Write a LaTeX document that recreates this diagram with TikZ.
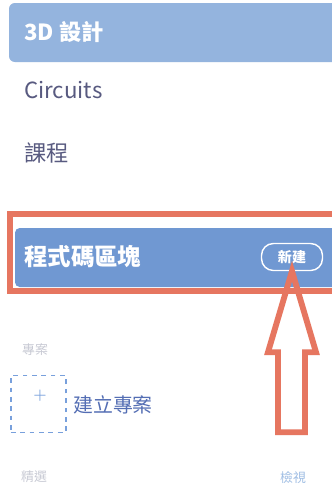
\documentclass[tikz,border=0pt]{standalone}
\usepackage{fontspec}
\newfontfamily\cjk{Noto Sans CJK TC}
\definecolor{topbar}{RGB}{148,180,222}
\definecolor{codebar}{RGB}{112,152,210}
\definecolor{menutext}{RGB}{88,90,128}
\definecolor{markred}{RGB}{230,118,96}
\definecolor{newproject}{RGB}{84,110,180}
\definecolor{dashblue}{RGB}{120,160,220}
\definecolor{faintgray}{RGB}{200,202,212}
\definecolor{faintblue}{RGB}{160,190,228}

\begin{document}
\begin{tikzpicture}[x=0.03cm, y=-0.03cm]
            \useasboundingbox[fill=white] (0, 0) rectangle (332, 492);
            \tikzstyle{every node} = [inner sep=0pt, anchor=west]
            \tikzstyle{menu} = [font=\cjk\fontsize{19pt}{19pt}\selectfont]

            % top bar
            \fill[topbar, rounded corners=5] (9, 3) rectangle (338, 62);
            \node[menu, text=white, font=\cjk\bfseries\fontsize{19pt}{19pt}\selectfont] (design) at (24, 32) {3D 設計};

            \node[menu, text=menutext] (circuits) at (24, 90) {Circuits};
            \node[menu, text=menutext] (lessons) at (24, 153) {課程};

            % marked entry
            \fill[codebar, rounded corners=4] (15, 228) rectangle (338, 287);
            \draw[markred, line width=5.5] (10, 214) rectangle (342, 291);
            \node[menu, text=white, font=\cjk\bfseries\fontsize{20pt}{20pt}\selectfont] (codeblocks) at (24, 257) {程式碼區塊};
            \node[draw=white, line width=1.2, rounded corners=10, anchor=center,
                  minimum width=52, minimum height=23, text=white,
                  font=\cjk\bfseries\fontsize{12pt}{12pt}\selectfont] (newbtn) at (292, 257) {新建};

            % hollow arrow
            \coordinate (tip) at (newbtn.south);
            \draw[markred, line width=5, line join=miter]
                (tip) -- ++(-24, 81) -- ++(10, 0) -- ++(0, 80) -- ++(27, 0)
                -- ++(0, -80) -- ++(11, 0) -- cycle;

            % projects
            \node[text=faintgray, font=\cjk\fontsize{11pt}{11pt}\selectfont] (projects) at (22, 350) {專案};
            \node[draw=dashblue, dashed, dash pattern=on 4 off 4, line width=1, anchor=center,
                  minimum width=47, minimum height=48] (newbox) at (38.5, 404) {};
            \node[text=dashblue, anchor=center, font=\bfseries\fontsize{13pt}{13pt}\selectfont] (plus) at (40, 396) {+};
            \node[text=newproject, font=\cjk\fontsize{17pt}{17pt}\selectfont] (create) at (73, 405) {建立專案};

            \node[text=faintgray, font=\cjk\fontsize{11pt}{11pt}\selectfont] (featured) at (21, 477) {精選};
            \node[text=faintblue, font=\cjk\fontsize{11pt}{11pt}\selectfont] (viewall) at (280, 478) {檢視};
        \end{tikzpicture}
\end{document}
